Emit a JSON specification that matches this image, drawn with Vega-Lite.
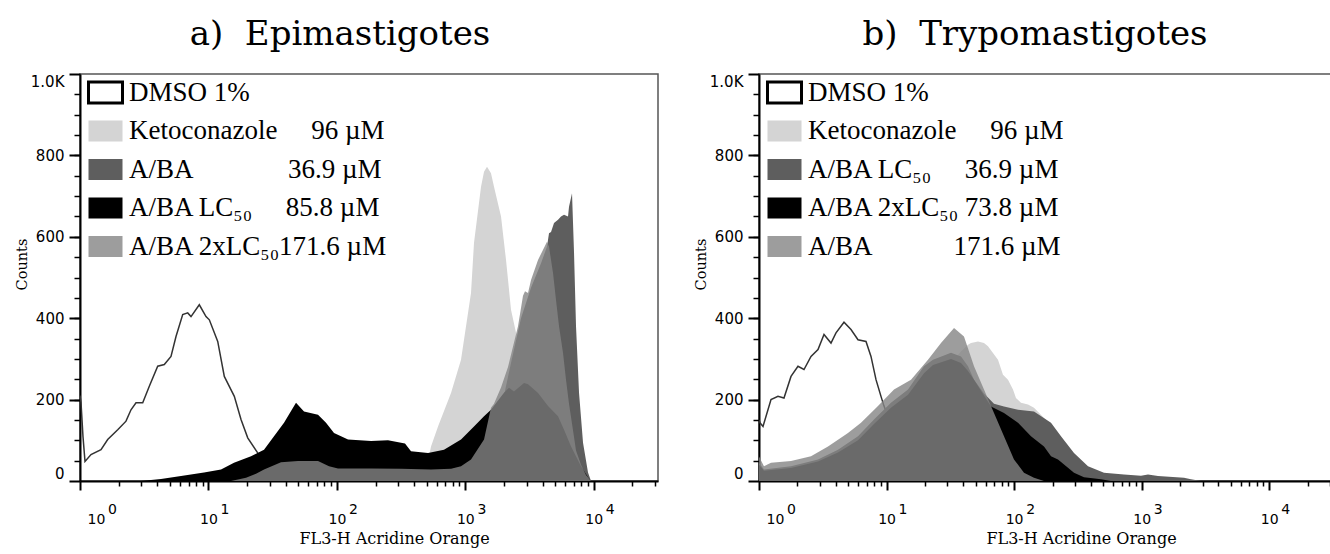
{
"$schema": "https://vega.github.io/schema/vega-lite/v6.json",
"background": "white",
"padding": {"left": 13, "top": 17, "right": 0, "bottom": 5},
"bounds": "flush",
"spacing": 101,
"resolve": {"scale": {"color": "independent"}, "legend": {"color": "independent"}},
"config": {
 "view": {"stroke": "#555555", "strokeWidth": 1.5},
 "axis": {"grid": false, "labelColor": "#000", "tickColor": "#000", "domainColor": "#000", "labelFont": "DejaVu Sans", "labelFontSize": 14, "titleFont": "DejaVu Serif", "titleFontWeight": "normal", "titleColor": "#000"}
},
"datasets": {
"epi": [
{"series":"DMSO 1%","fl":1.0,"count":210},{"series":"DMSO 1%","fl":1.018,"count":193},{"series":"DMSO 1%","fl":1.055,"count":109},{"series":"DMSO 1%","fl":1.094,"count":48},{"series":"DMSO 1%","fl":1.218,"count":65},{"series":"DMSO 1%","fl":1.457,"count":77},{"series":"DMSO 1%","fl":1.643,"count":102},{"series":"DMSO 1%","fl":1.966,"count":126},{"series":"DMSO 1%","fl":2.281,"count":147},{"series":"DMSO 1%","fl":2.495,"count":175},{"series":"DMSO 1%","fl":2.729,"count":192},{"series":"DMSO 1%","fl":3.078,"count":192},{"series":"DMSO 1%","fl":3.464,"count":233},{"series":"DMSO 1%","fl":4.027,"count":282},{"series":"DMSO 1%","fl":4.532,"count":286},{"series":"DMSO 1%","fl":5.11,"count":306},{"series":"DMSO 1%","fl":5.59,"count":355},{"series":"DMSO 1%","fl":6.304,"count":409},{"series":"DMSO 1%","fl":6.896,"count":413},{"series":"DMSO 1%","fl":7.315,"count":404},{"series":"DMSO 1%","fl":8.489,"count":433},{"series":"DMSO 1%","fl":9.572,"count":404},{"series":"DMSO 1%","fl":10.16,"count":396},{"series":"DMSO 1%","fl":11.81,"count":343},{"series":"DMSO 1%","fl":13.29,"count":257},{"series":"DMSO 1%","fl":15.9,"count":208},{"series":"DMSO 1%","fl":17.93,"count":151},{"series":"DMSO 1%","fl":20.22,"count":106},{"series":"DMSO 1%","fl":24.18,"count":69},{"series":"DMSO 1%","fl":28.07,"count":40},{"series":"DMSO 1%","fl":36.72,"count":15},{"series":"DMSO 1%","fl":52.56,"count":3},{"series":"DMSO 1%","fl":75.2,"count":0},
{"series":"Ketoconazole","fl":413,"count":0},{"series":"Ketoconazole","fl":494,"count":25},{"series":"Ketoconazole","fl":540.5,"count":85},{"series":"Ketoconazole","fl":612.9,"count":134},{"series":"Ketoconazole","fl":773.6,"count":216},{"series":"Ketoconazole","fl":925.5,"count":298},{"series":"Ketoconazole","fl":1107,"count":462},{"series":"Ketoconazole","fl":1168,"count":585},{"series":"Ketoconazole","fl":1325,"count":723},{"series":"Ketoconazole","fl":1398,"count":760},{"series":"Ketoconazole","fl":1475,"count":772},{"series":"Ketoconazole","fl":1584,"count":756},{"series":"Ketoconazole","fl":1672,"count":723},{"series":"Ketoconazole","fl":1896,"count":650},{"series":"Ketoconazole","fl":2074,"count":543},{"series":"Ketoconazole","fl":2268,"count":421},{"series":"Ketoconazole","fl":2481,"count":364},{"series":"Ketoconazole","fl":2713,"count":280},{"series":"Ketoconazole","fl":3246,"count":150},{"series":"Ketoconazole","fl":3884,"count":70},{"series":"Ketoconazole","fl":4647,"count":25},{"series":"Ketoconazole","fl":5558,"count":5},{"series":"Ketoconazole","fl":6079,"count":0},
{"series":"A/BA","fl":1325,"count":0},{"series":"A/BA","fl":1733,"count":100},{"series":"A/BA","fl":2000,"count":210},{"series":"A/BA","fl":2268,"count":290},{"series":"A/BA","fl":2713,"count":400},{"series":"A/BA","fl":3246,"count":475},{"series":"A/BA","fl":3884,"count":535},{"series":"A/BA","fl":4324,"count":576},{"series":"A/BA","fl":4482,"count":609},{"series":"A/BA","fl":4647,"count":612},{"series":"A/BA","fl":4903,"count":634},{"series":"A/BA","fl":5267,"count":642},{"series":"A/BA","fl":5558,"count":650},{"series":"A/BA","fl":5865,"count":654},{"series":"A/BA","fl":6302,"count":650},{"series":"A/BA","fl":6415,"count":674},{"series":"A/BA","fl":6770,"count":707},{"series":"A/BA","fl":7019,"count":560},{"series":"A/BA","fl":7272,"count":380},{"series":"A/BA","fl":7676,"count":217},{"series":"A/BA","fl":8247,"count":94},{"series":"A/BA","fl":9018,"count":21},{"series":"A/BA","fl":9517,"count":0},
{"series":"A/BA LC\u2085\u2080","fl":2.985,"count":0},{"series":"A/BA LC\u2085\u2080","fl":4.272,"count":5},{"series":"A/BA LC\u2085\u2080","fl":6.115,"count":12},{"series":"A/BA LC\u2085\u2080","fl":9.236,"count":21},{"series":"A/BA LC\u2085\u2080","fl":12.53,"count":28},{"series":"A/BA LC\u2085\u2080","fl":15.81,"count":45},{"series":"A/BA LC\u2085\u2080","fl":21.45,"count":61},{"series":"A/BA LC\u2085\u2080","fl":27.08,"count":77},{"series":"A/BA LC\u2085\u2080","fl":32.39,"count":110},{"series":"A/BA LC\u2085\u2080","fl":38.75,"count":143},{"series":"A/BA LC\u2085\u2080","fl":48.05,"count":192},{"series":"A/BA LC\u2085\u2080","fl":55.46,"count":171},{"series":"A/BA LC\u2085\u2080","fl":71.29,"count":163},{"series":"A/BA LC\u2085\u2080","fl":82.29,"count":143},{"series":"A/BA LC\u2085\u2080","fl":94.97,"count":118},{"series":"A/BA LC\u2085\u2080","fl":122.1,"count":102},{"series":"A/BA LC\u2085\u2080","fl":184.4,"count":98},{"series":"A/BA LC\u2085\u2080","fl":250,"count":100},{"series":"A/BA LC\u2085\u2080","fl":339,"count":92},{"series":"A/BA LC\u2085\u2080","fl":377.6,"count":73},{"series":"A/BA LC\u2085\u2080","fl":512.2,"count":69},{"series":"A/BA LC\u2085\u2080","fl":682.3,"count":77},{"series":"A/BA LC\u2085\u2080","fl":925.5,"count":102},{"series":"A/BA LC\u2085\u2080","fl":1168,"count":134},{"series":"A/BA LC\u2085\u2080","fl":1398,"count":159},{"series":"A/BA LC\u2085\u2080","fl":1584,"count":175},{"series":"A/BA LC\u2085\u2080","fl":2000,"count":217},{"series":"A/BA LC\u2085\u2080","fl":2188,"count":229},{"series":"A/BA LC\u2085\u2080","fl":2393,"count":220},{"series":"A/BA LC\u2085\u2080","fl":2863,"count":241},{"series":"A/BA LC\u2085\u2080","fl":3076,"count":238},{"series":"A/BA LC\u2085\u2080","fl":3680,"count":216},{"series":"A/BA LC\u2085\u2080","fl":4403,"count":184},{"series":"A/BA LC\u2085\u2080","fl":5267,"count":159},{"series":"A/BA LC\u2085\u2080","fl":5865,"count":126},{"series":"A/BA LC\u2085\u2080","fl":6651,"count":85},{"series":"A/BA LC\u2085\u2080","fl":7955,"count":36},{"series":"A/BA LC\u2085\u2080","fl":9018,"count":9},{"series":"A/BA LC\u2085\u2080","fl":9517,"count":0},
{"series":"A/BA 2xLC\u2085\u2080","fl":14.98,"count":0},{"series":"A/BA 2xLC\u2085\u2080","fl":19.61,"count":8},{"series":"A/BA 2xLC\u2085\u2080","fl":23.46,"count":18},{"series":"A/BA 2xLC\u2085\u2080","fl":27.08,"count":28},{"series":"A/BA 2xLC\u2085\u2080","fl":36.72,"count":46},{"series":"A/BA 2xLC\u2085\u2080","fl":49.81,"count":49},{"series":"A/BA 2xLC\u2085\u2080","fl":71.29,"count":49},{"series":"A/BA 2xLC\u2085\u2080","fl":86.85,"count":36},{"series":"A/BA 2xLC\u2085\u2080","fl":102,"count":31},{"series":"A/BA 2xLC\u2085\u2080","fl":184.4,"count":31},{"series":"A/BA 2xLC\u2085\u2080","fl":315.6,"count":30},{"series":"A/BA 2xLC\u2085\u2080","fl":540.5,"count":28},{"series":"A/BA 2xLC\u2085\u2080","fl":773.6,"count":30},{"series":"A/BA 2xLC\u2085\u2080","fl":925.5,"count":36},{"series":"A/BA 2xLC\u2085\u2080","fl":1107,"count":53},{"series":"A/BA 2xLC\u2085\u2080","fl":1398,"count":102},{"series":"A/BA 2xLC\u2085\u2080","fl":1584,"count":180},{"series":"A/BA 2xLC\u2085\u2080","fl":1672,"count":190},{"series":"A/BA 2xLC\u2085\u2080","fl":1896,"count":230},{"series":"A/BA 2xLC\u2085\u2080","fl":2149,"count":280},{"series":"A/BA 2xLC\u2085\u2080","fl":2571,"count":380},{"series":"A/BA 2xLC\u2085\u2080","fl":2812,"count":455},{"series":"A/BA 2xLC\u2085\u2080","fl":2915,"count":466},{"series":"A/BA 2xLC\u2085\u2080","fl":3076,"count":462},{"series":"A/BA 2xLC\u2085\u2080","fl":3246,"count":494},{"series":"A/BA 2xLC\u2085\u2080","fl":3680,"count":543},{"series":"A/BA 2xLC\u2085\u2080","fl":4324,"count":588},{"series":"A/BA 2xLC\u2085\u2080","fl":4482,"count":576},{"series":"A/BA 2xLC\u2085\u2080","fl":4817,"count":511},{"series":"A/BA 2xLC\u2085\u2080","fl":5082,"count":445},{"series":"A/BA 2xLC\u2085\u2080","fl":5364,"count":380},{"series":"A/BA 2xLC\u2085\u2080","fl":5761,"count":315},{"series":"A/BA 2xLC\u2085\u2080","fl":6079,"count":249},{"series":"A/BA 2xLC\u2085\u2080","fl":6415,"count":190},{"series":"A/BA 2xLC\u2085\u2080","fl":6893,"count":125},{"series":"A/BA 2xLC\u2085\u2080","fl":7272,"count":75},{"series":"A/BA 2xLC\u2085\u2080","fl":7955,"count":40},{"series":"A/BA 2xLC\u2085\u2080","fl":8701,"count":15},{"series":"A/BA 2xLC\u2085\u2080","fl":9517,"count":0}
],
"trypo": [
{"series":"DMSO 1%","fl":1.0,"count":150},{"series":"DMSO 1%","fl":1.018,"count":143},{"series":"DMSO 1%","fl":1.075,"count":134},{"series":"DMSO 1%","fl":1.242,"count":200},{"series":"DMSO 1%","fl":1.409,"count":208},{"series":"DMSO 1%","fl":1.57,"count":204},{"series":"DMSO 1%","fl":1.782,"count":257},{"series":"DMSO 1%","fl":2.021,"count":282},{"series":"DMSO 1%","fl":2.253,"count":274},{"series":"DMSO 1%","fl":2.557,"count":306},{"series":"DMSO 1%","fl":2.901,"count":323},{"series":"DMSO 1%","fl":3.233,"count":360},{"series":"DMSO 1%","fl":3.668,"count":339},{"series":"DMSO 1%","fl":4.014,"count":364},{"series":"DMSO 1%","fl":4.639,"count":390},{"series":"DMSO 1%","fl":5.263,"count":372},{"series":"DMSO 1%","fl":5.972,"count":347},{"series":"DMSO 1%","fl":6.9,"count":343},{"series":"DMSO 1%","fl":7.551,"count":306},{"series":"DMSO 1%","fl":8.266,"count":249},{"series":"DMSO 1%","fl":9.045,"count":208},{"series":"DMSO 1%","fl":9.548,"count":184},{"series":"DMSO 1%","fl":10.83,"count":140},{"series":"DMSO 1%","fl":12.98,"count":90},{"series":"DMSO 1%","fl":15.55,"count":50},{"series":"DMSO 1%","fl":18.62,"count":20},{"series":"DMSO 1%","fl":24.41,"count":0},
{"series":"Ketoconazole","fl":2.135,"count":0},{"series":"Ketoconazole","fl":5.263,"count":50},{"series":"Ketoconazole","fl":9.045,"count":100},{"series":"Ketoconazole","fl":12.98,"count":160},{"series":"Ketoconazole","fl":22.31,"count":255},{"series":"Ketoconazole","fl":32.01,"count":290},{"series":"Ketoconazole","fl":38.33,"count":318},{"series":"Ketoconazole","fl":43.5,"count":335},{"series":"Ketoconazole","fl":45.92,"count":339},{"series":"Ketoconazole","fl":52.12,"count":343},{"series":"Ketoconazole","fl":58.06,"count":339},{"series":"Ketoconazole","fl":62.4,"count":331},{"series":"Ketoconazole","fl":74.75,"count":298},{"series":"Ketoconazole","fl":81.8,"count":261},{"series":"Ketoconazole","fl":89.54,"count":249},{"series":"Ketoconazole","fl":98,"count":225},{"series":"Ketoconazole","fl":103.4,"count":204},{"series":"Ketoconazole","fl":113.2,"count":192},{"series":"Ketoconazole","fl":128.5,"count":188},{"series":"Ketoconazole","fl":143.2,"count":180},{"series":"Ketoconazole","fl":177.8,"count":150},{"series":"Ketoconazole","fl":233.1,"count":90},{"series":"Ketoconazole","fl":334.4,"count":30},{"series":"Ketoconazole","fl":479.9,"count":0},
{"series":"A/BA LC\u2085\u2080","fl":1.0,"count":45},{"series":"A/BA LC\u2085\u2080","fl":1.094,"count":28},{"series":"A/BA LC\u2085\u2080","fl":1.782,"count":36},{"series":"A/BA LC\u2085\u2080","fl":2.901,"count":53},{"series":"A/BA LC\u2085\u2080","fl":4.162,"count":77},{"series":"A/BA LC\u2085\u2080","fl":5.972,"count":110},{"series":"A/BA LC\u2085\u2080","fl":7.972,"count":151},{"series":"A/BA LC\u2085\u2080","fl":10.83,"count":192},{"series":"A/BA LC\u2085\u2080","fl":14.73,"count":225},{"series":"A/BA LC\u2085\u2080","fl":19.66,"count":282},{"series":"A/BA LC\u2085\u2080","fl":23.13,"count":298},{"series":"A/BA LC\u2085\u2080","fl":32.01,"count":315},{"series":"A/BA LC\u2085\u2080","fl":38.33,"count":306},{"series":"A/BA LC\u2085\u2080","fl":43.5,"count":282},{"series":"A/BA LC\u2085\u2080","fl":48.48,"count":249},{"series":"A/BA LC\u2085\u2080","fl":58.06,"count":215},{"series":"A/BA LC\u2085\u2080","fl":69.56,"count":190},{"series":"A/BA LC\u2085\u2080","fl":83.3,"count":183},{"series":"A/BA LC\u2085\u2080","fl":107.3,"count":175},{"series":"A/BA LC\u2085\u2080","fl":143.2,"count":171},{"series":"A/BA LC\u2085\u2080","fl":194.6,"count":143},{"series":"A/BA LC\u2085\u2080","fl":233.1,"count":110},{"series":"A/BA LC\u2085\u2080","fl":294.8,"count":69},{"series":"A/BA LC\u2085\u2080","fl":379.6,"count":36},{"series":"A/BA LC\u2085\u2080","fl":506.6,"count":20},{"series":"A/BA LC\u2085\u2080","fl":726.8,"count":16},{"series":"A/BA LC\u2085\u2080","fl":987.9,"count":13},{"series":"A/BA LC\u2085\u2080","fl":1121,"count":16},{"series":"A/BA LC\u2085\u2080","fl":1343,"count":12},{"series":"A/BA LC\u2085\u2080","fl":2147,"count":8},{"series":"A/BA LC\u2085\u2080","fl":2436,"count":4},{"series":"A/BA LC\u2085\u2080","fl":2918,"count":0},
{"series":"A/BA 2xLC\u2085\u2080","fl":1.0,"count":40},{"series":"A/BA 2xLC\u2085\u2080","fl":1.094,"count":25},{"series":"A/BA 2xLC\u2085\u2080","fl":1.782,"count":32},{"series":"A/BA 2xLC\u2085\u2080","fl":2.901,"count":48},{"series":"A/BA 2xLC\u2085\u2080","fl":4.162,"count":70},{"series":"A/BA 2xLC\u2085\u2080","fl":5.972,"count":100},{"series":"A/BA 2xLC\u2085\u2080","fl":7.972,"count":140},{"series":"A/BA 2xLC\u2085\u2080","fl":10.83,"count":180},{"series":"A/BA 2xLC\u2085\u2080","fl":14.73,"count":212},{"series":"A/BA 2xLC\u2085\u2080","fl":19.66,"count":265},{"series":"A/BA 2xLC\u2085\u2080","fl":23.13,"count":285},{"series":"A/BA 2xLC\u2085\u2080","fl":32.01,"count":300},{"series":"A/BA 2xLC\u2085\u2080","fl":38.33,"count":290},{"series":"A/BA 2xLC\u2085\u2080","fl":43.5,"count":270},{"series":"A/BA 2xLC\u2085\u2080","fl":48.48,"count":249},{"series":"A/BA 2xLC\u2085\u2080","fl":65.89,"count":183},{"series":"A/BA 2xLC\u2085\u2080","fl":83.3,"count":167},{"series":"A/BA 2xLC\u2085\u2080","fl":107.3,"count":143},{"series":"A/BA 2xLC\u2085\u2080","fl":135.6,"count":110},{"series":"A/BA 2xLC\u2085\u2080","fl":171.5,"count":85},{"series":"A/BA 2xLC\u2085\u2080","fl":194.6,"count":61},{"series":"A/BA 2xLC\u2085\u2080","fl":220.8,"count":53},{"series":"A/BA 2xLC\u2085\u2080","fl":294.8,"count":20},{"series":"A/BA 2xLC\u2085\u2080","fl":353,"count":9},{"series":"A/BA 2xLC\u2085\u2080","fl":479.9,"count":4},{"series":"A/BA 2xLC\u2085\u2080","fl":574.8,"count":0},
{"series":"A/BA","fl":1.0,"count":60},{"series":"A/BA","fl":1.094,"count":36},{"series":"A/BA","fl":1.242,"count":45},{"series":"A/BA","fl":1.782,"count":49},{"series":"A/BA","fl":2.557,"count":61},{"series":"A/BA","fl":3.475,"count":85},{"series":"A/BA","fl":4.985,"count":118},{"series":"A/BA","fl":6.304,"count":143},{"series":"A/BA","fl":8.567,"count":184},{"series":"A/BA","fl":11.44,"count":225},{"series":"A/BA","fl":15.55,"count":249},{"series":"A/BA","fl":21.13,"count":298},{"series":"A/BA","fl":26.72,"count":339},{"series":"A/BA","fl":33.8,"count":376},{"series":"A/BA","fl":40.46,"count":355},{"series":"A/BA","fl":48.48,"count":282},{"series":"A/BA","fl":58.06,"count":225},{"series":"A/BA","fl":69.56,"count":167},{"series":"A/BA","fl":83.3,"count":110},{"series":"A/BA","fl":99.8,"count":53},{"series":"A/BA","fl":119.5,"count":20},{"series":"A/BA","fl":143.2,"count":8},{"series":"A/BA","fl":171.5,"count":0}
]
},
"hconcat": [
{
 "width": 578, "height": 407,
 "title": {"text": "a)\u00a0\u00a0Epimastigotes", "font": "DejaVu Serif", "fontSize": 34, "fontWeight": "normal", "color": "#000", "anchor": "middle", "dx": -29, "frame": "group", "baseline": "alphabetic", "offset": -6},
 "data": {"name": "epi"},
 "layer": [
  {"transform": [{"filter": "datum.series === 'DMSO 1%'"}],
   "mark": {"type": "line", "color": "#333333", "strokeWidth": 1.5, "clip": true},
   "encoding": {
    "x": {"field": "fl", "type": "quantitative", "scale": {"type": "log", "domain": [1, 31623], "nice": false},
     "axis": {"orient": "bottom", "values": [1, 10, 100, 1000, 10000], "labelExpr": "'10'", "tickSize": 9, "tickWidth": 2, "domainWidth": 2, "labelBaseline": "middle", "labelAlign": "center", "labelPadding": 29, "labelFlush": false, "labelOverlap": false, "labelOffset": {"condition": {"test": "datum.value === 1", "value": 16}, "value": 0}, "title": "FL3-H Acridine Orange", "titleX": 314, "titleY": 62, "titleAlign": "center", "titleBaseline": "alphabetic", "titleFontSize": 16}},
    "y": {"field": "count", "type": "quantitative", "scale": {"domain": [0, 1000], "nice": false},
     "axis": {"orient": "left", "values": [0, 200, 400, 600, 800, 1000], "labelExpr": "datum.value === 1000 ? '1.0K' : datum.label", "labelFontSize": 15, "tickSize": 11, "tickWidth": 2, "domainWidth": 2, "labelPadding": 5, "labelFlush": true, "labelOverlap": false, "title": "Counts", "titleX": -54, "titleY": 190, "titleAngle": -90, "titleAlign": "center", "titleBaseline": "alphabetic", "titleFontSize": 14.5}}
   }},
  {"transform": [{"filter": "datum.series === 'Ketoconazole'"}],
   "mark": {"type": "area", "clip": true},
   "encoding": {
    "x": {"field": "fl", "type": "quantitative", "axis": {"orient": "bottom", "values": [2,3,4,5,6,7,8,9,20,30,40,50,60,70,80,90,200,300,400,500,600,700,800,900,2000,3000,4000,5000,6000,7000,8000,9000,20000,30000], "labels": false, "domain": false, "tickSize": 5, "tickWidth": 1.5, "title": null}},
    "y": {"field": "count", "type": "quantitative", "stack": null, "axis": {"orient": "left", "values": [50,100,150,200,250,300,350,400,450,500,550,600,650,700,750,800,850,900,950], "labels": false, "domain": false, "tickSize": 6, "tickWidth": 1.5, "title": null}},
    "color": {"field": "series", "type": "nominal",
     "scale": {"domain": ["DMSO 1%", "Ketoconazole", "A/BA", "A/BA LC\u2085\u2080", "A/BA 2xLC\u2085\u2080"], "range": ["#ffffff", "#d4d4d4", "#5e5e5e", "#000000", "#858585"]},
     "legend": {"orient": "none", "legendX": 7, "legendY": 0, "title": null, "padding": 0, "offset": 0, "direction": "vertical", "symbolType": "M-1,-0.62H1V0.62H-1Z", "symbolSize": 1156, "symbolStrokeWidth": 0, "symbolOpacity": 1, "labelFont": "Liberation Serif", "labelFontSize": 27, "labelColor": "#000", "labelOffset": 5, "labelLimit": 500, "rowPadding": 2.5,
      "labelExpr": "datum.value === 'Ketoconazole' ? 'Ketoconazole\u00a0\u00a0\u00a0\u00a0\u00a096 \u00b5M' : datum.value === 'A/BA' ? 'A/BA\u00a0\u00a0\u00a0\u00a0\u00a0\u00a0\u00a0\u00a0\u00a0\u00a0\u00a0\u00a0\u00a0\u00a036.9 \u00b5M' : datum.value === 'A/BA LC\u2085\u2080' ? 'A/BA LC\u2085\u2080\u00a0\u00a0\u00a0\u00a0\u00a085.8 \u00b5M' : datum.value === 'A/BA 2xLC\u2085\u2080' ? 'A/BA 2xLC\u2085\u2080171.6 \u00b5M' : datum.label",
      "encode": {"symbols": {"update": {"stroke": {"signal": "datum.value === 'DMSO 1%' ? '#000' : 'transparent'"}, "strokeWidth": {"value": 3}, "fillOpacity": {"signal": "datum.value === 'A/BA 2xLC\u2085\u2080' ? 0.8 : 1"}}}}}}
   }},
  {"transform": [{"filter": "datum.series === 'A/BA'"}],
   "mark": {"type": "area", "clip": true},
   "encoding": {
    "x": {"field": "fl", "type": "quantitative", "axis": {"orient": "bottom", "values": [1, 10, 100, 1000, 10000], "labelExpr": "'' + round(log(datum.value) / LN10)", "ticks": false, "tickSize": 0, "domain": false, "labelBaseline": "middle", "labelAlign": "center", "labelPadding": 28, "labelFlush": false, "labelOverlap": false, "labelOffset": {"condition": {"test": "datum.value === 1", "value": 32}, "value": 16}, "title": null}},
    "y": {"field": "count", "type": "quantitative", "stack": null, "axis": null},
    "color": {"field": "series", "type": "nominal"}
   }},
  {"transform": [{"filter": "datum.series === 'A/BA LC\u2085\u2080'"}],
   "mark": {"type": "area", "clip": true},
   "encoding": {
    "x": {"field": "fl", "type": "quantitative", "axis": null},
    "y": {"field": "count", "type": "quantitative", "stack": null, "axis": null},
    "color": {"field": "series", "type": "nominal"}
   }},
  {"transform": [{"filter": "datum.series === 'A/BA 2xLC\u2085\u2080'"}],
   "mark": {"type": "area", "clip": true, "opacity": 0.8},
   "encoding": {
    "x": {"field": "fl", "type": "quantitative", "axis": null},
    "y": {"field": "count", "type": "quantitative", "stack": null, "axis": null},
    "color": {"field": "series", "type": "nominal"}
   }}
 ],
 "resolve": {"axis": {"x": "independent", "y": "independent"}}
},
{
 "width": 574, "height": 407,
 "title": {"text": "b)\u00a0\u00a0Trypomastigotes", "font": "DejaVu Serif", "fontSize": 34, "fontWeight": "normal", "color": "#000", "anchor": "middle", "dx": -11, "frame": "group", "baseline": "alphabetic", "offset": -6},
 "data": {"name": "trypo"},
 "layer": [
  {"transform": [{"filter": "datum.series === 'DMSO 1%'"}],
   "mark": {"type": "line", "color": "#333333", "strokeWidth": 1.5, "clip": true},
   "encoding": {
    "x": {"field": "fl", "type": "quantitative", "scale": {"type": "log", "domain": [1, 31623], "nice": false},
     "axis": {"orient": "bottom", "values": [1, 10, 100, 1000, 10000], "labelExpr": "'10'", "tickSize": 9, "tickWidth": 2, "domainWidth": 2, "labelBaseline": "middle", "labelAlign": "center", "labelPadding": 29, "labelFlush": false, "labelOverlap": false, "labelOffset": {"condition": {"test": "datum.value === 1", "value": 16}, "value": 0}, "title": "FL3-H Acridine Orange", "titleX": 322, "titleY": 62, "titleAlign": "center", "titleBaseline": "alphabetic", "titleFontSize": 16}},
    "y": {"field": "count", "type": "quantitative", "scale": {"domain": [0, 1000], "nice": false},
     "axis": {"orient": "left", "values": [0, 200, 400, 600, 800, 1000], "labelExpr": "datum.value === 1000 ? '1.0K' : datum.label", "labelFontSize": 15, "tickSize": 11, "tickWidth": 2, "domainWidth": 2, "labelPadding": 5, "labelFlush": true, "labelOverlap": false, "title": "Counts", "titleX": -54, "titleY": 190, "titleAngle": -90, "titleAlign": "center", "titleBaseline": "alphabetic", "titleFontSize": 14.5}}
   }},
  {"transform": [{"filter": "datum.series === 'Ketoconazole'"}],
   "mark": {"type": "area", "clip": true},
   "encoding": {
    "x": {"field": "fl", "type": "quantitative", "axis": {"orient": "bottom", "values": [2,3,4,5,6,7,8,9,20,30,40,50,60,70,80,90,200,300,400,500,600,700,800,900,2000,3000,4000,5000,6000,7000,8000,9000,20000,30000], "labels": false, "domain": false, "tickSize": 5, "tickWidth": 1.5, "title": null}},
    "y": {"field": "count", "type": "quantitative", "stack": null, "axis": {"orient": "left", "values": [50,100,150,200,250,300,350,400,450,500,550,600,650,700,750,800,850,900,950], "labels": false, "domain": false, "tickSize": 6, "tickWidth": 1.5, "title": null}},
    "color": {"field": "series", "type": "nominal",
     "scale": {"domain": ["DMSO 1%", "Ketoconazole", "A/BA LC\u2085\u2080", "A/BA 2xLC\u2085\u2080", "A/BA"], "range": ["#ffffff", "#d4d4d4", "#5e5e5e", "#000000", "#858585"]},
     "legend": {"orient": "none", "legendX": 7, "legendY": 0, "title": null, "padding": 0, "offset": 0, "direction": "vertical", "symbolType": "M-1,-0.62H1V0.62H-1Z", "symbolSize": 1156, "symbolStrokeWidth": 0, "symbolOpacity": 1, "labelFont": "Liberation Serif", "labelFontSize": 27, "labelColor": "#000", "labelOffset": 5, "labelLimit": 500, "rowPadding": 2.5,
      "labelExpr": "datum.value === 'Ketoconazole' ? 'Ketoconazole\u00a0\u00a0\u00a0\u00a0\u00a096 \u00b5M' : datum.value === 'A/BA LC\u2085\u2080' ? 'A/BA LC\u2085\u2080\u00a0\u00a0\u00a0\u00a0\u00a036.9 \u00b5M' : datum.value === 'A/BA 2xLC\u2085\u2080' ? 'A/BA 2xLC\u2085\u2080\u00a073.8 \u00b5M' : datum.value === 'A/BA' ? 'A/BA\u00a0\u00a0\u00a0\u00a0\u00a0\u00a0\u00a0\u00a0\u00a0\u00a0\u00a0\u00a0171.6 \u00b5M' : datum.label",
      "encode": {"symbols": {"update": {"stroke": {"signal": "datum.value === 'DMSO 1%' ? '#000' : 'transparent'"}, "strokeWidth": {"value": 3}, "fillOpacity": {"signal": "datum.value === 'A/BA' ? 0.8 : 1"}}}}}}
   }},
  {"transform": [{"filter": "datum.series === 'A/BA LC\u2085\u2080'"}],
   "mark": {"type": "area", "clip": true},
   "encoding": {
    "x": {"field": "fl", "type": "quantitative", "axis": {"orient": "bottom", "values": [1, 10, 100, 1000, 10000], "labelExpr": "'' + round(log(datum.value) / LN10)", "ticks": false, "tickSize": 0, "domain": false, "labelBaseline": "middle", "labelAlign": "center", "labelPadding": 28, "labelFlush": false, "labelOverlap": false, "labelOffset": {"condition": {"test": "datum.value === 1", "value": 32}, "value": 16}, "title": null}},
    "y": {"field": "count", "type": "quantitative", "stack": null, "axis": null},
    "color": {"field": "series", "type": "nominal"}
   }},
  {"transform": [{"filter": "datum.series === 'A/BA 2xLC\u2085\u2080'"}],
   "mark": {"type": "area", "clip": true},
   "encoding": {
    "x": {"field": "fl", "type": "quantitative", "axis": null},
    "y": {"field": "count", "type": "quantitative", "stack": null, "axis": null},
    "color": {"field": "series", "type": "nominal"}
   }},
  {"transform": [{"filter": "datum.series === 'A/BA'"}],
   "mark": {"type": "area", "clip": true, "opacity": 0.8},
   "encoding": {
    "x": {"field": "fl", "type": "quantitative", "axis": null},
    "y": {"field": "count", "type": "quantitative", "stack": null, "axis": null},
    "color": {"field": "series", "type": "nominal"}
   }}
 ],
 "resolve": {"axis": {"x": "independent", "y": "independent"}}
}
]
}
